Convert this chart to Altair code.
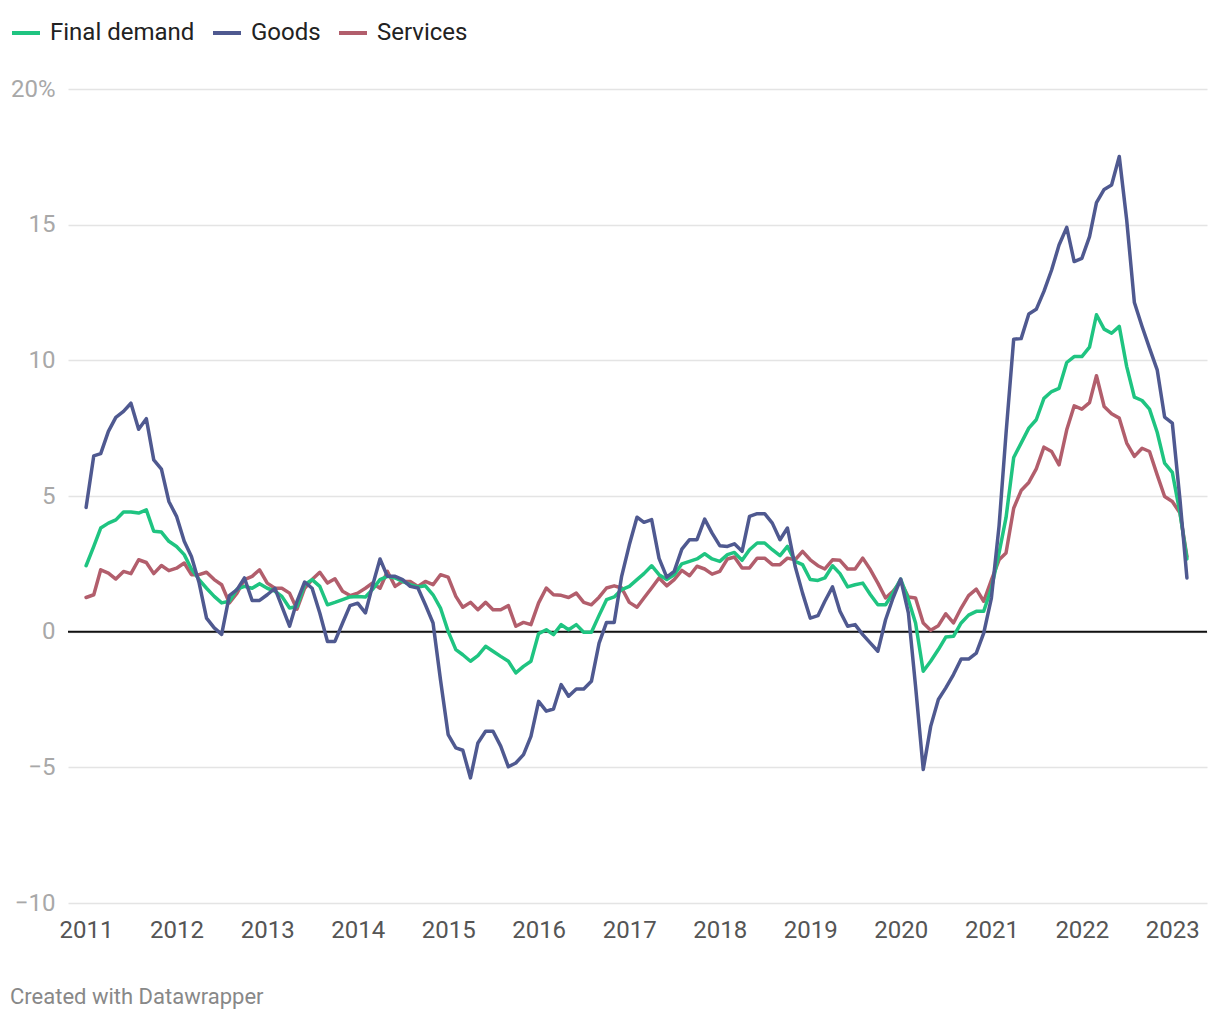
import altair as alt
import pandas as pd

# Monthly 12-month % change, Jan 2011 - Mar 2023
final_demand = [
    2.43, 3.14, 3.82, 4.0, 4.12, 4.41, 4.41, 4.37, 4.49, 3.7, 3.67, 3.33,
    3.14, 2.84, 2.31, 1.92, 1.6, 1.3, 1.06, 1.12, 1.57, 1.67, 1.6, 1.77,
    1.6, 1.49, 1.3, 0.87, 0.93, 1.73, 1.92, 1.67, 0.99, 1.08, 1.18, 1.28,
    1.3, 1.28, 1.55, 1.92, 2.04, 1.98, 1.85, 1.73, 1.65, 1.69, 1.36, 0.87,
    0.01, -0.66, -0.85, -1.09, -0.88, -0.54, -0.72, -0.91, -1.09, -1.52, -1.28, -1.09,
    -0.07, 0.07, -0.11, 0.26, 0.07, 0.26, -0.02, -0.02, 0.6, 1.18, 1.28, 1.55,
    1.67, 1.92, 2.14, 2.43, 2.1, 1.92, 2.1, 2.5, 2.59, 2.68, 2.87, 2.68,
    2.59, 2.84, 2.92, 2.63, 3.02, 3.27, 3.27, 3.02, 2.8, 3.14, 2.59, 2.47,
    1.92, 1.89, 1.98, 2.43, 2.14, 1.65, 1.73, 1.79, 1.36, 0.99, 0.99, 1.42,
    1.94, 1.18, 0.32, -1.46, -1.09, -0.66, -0.2, -0.17, 0.32, 0.61, 0.75, 0.75,
    1.6, 2.9, 4.2, 6.42, 6.95, 7.5, 7.81, 8.6, 8.85, 8.97, 9.92, 10.14,
    10.14, 10.49, 11.68, 11.15, 11.0, 11.25, 9.77, 8.64, 8.52, 8.2, 7.35, 6.21,
    5.87, 4.37, 2.68,
]
goods = [
    4.58, 6.48, 6.56, 7.38, 7.9, 8.12, 8.42, 7.46, 7.85, 6.33, 5.99, 4.8,
    4.25, 3.33, 2.77, 1.8, 0.5, 0.14, -0.1, 1.33, 1.55, 1.98, 1.15, 1.15,
    1.36, 1.6, 0.93, 0.2, 1.12, 1.83, 1.6, 0.69, -0.36, -0.36, 0.32, 0.96,
    1.05, 0.69, 1.67, 2.68, 2.04, 2.04, 1.92, 1.67, 1.61, 0.99, 0.32, -1.77,
    -3.79, -4.28, -4.37, -5.39, -4.1, -3.67, -3.67, -4.22, -4.98, -4.84, -4.53, -3.86,
    -2.57, -2.93, -2.85, -1.95, -2.38, -2.11, -2.11, -1.83, -0.42, 0.34, 0.34, 2.04,
    3.2, 4.22, 4.03, 4.13, 2.7, 2.01, 2.22, 3.04, 3.39, 3.39, 4.15, 3.63,
    3.17, 3.14, 3.24, 2.96, 4.25, 4.35, 4.35, 4.0, 3.39, 3.82, 2.41, 1.42,
    0.5, 0.59, 1.12, 1.65, 0.75, 0.2, 0.26, -0.11, -0.42, -0.72, 0.44, 1.24,
    1.94, 0.69, -2.01, -5.08, -3.49, -2.5, -2.07, -1.58, -1.01, -1.01, -0.79, -0.05,
    1.24, 3.9, 7.3, 10.78, 10.8, 11.71, 11.88, 12.54, 13.33, 14.25, 14.9, 13.64,
    13.76, 14.56, 15.81, 16.3, 16.46, 17.51, 15.17, 12.13, 11.25, 10.45, 9.65, 7.91,
    7.69, 4.86, 1.98,
]
services = [
    1.26, 1.36, 2.28, 2.16, 1.94, 2.22, 2.14, 2.65, 2.55, 2.14, 2.44, 2.25,
    2.34, 2.53, 2.1, 2.1, 2.19, 1.92, 1.73, 1.06, 1.42, 1.92, 2.04, 2.28,
    1.79, 1.6, 1.6, 1.42, 0.83, 1.6, 1.92, 2.19, 1.79, 1.95, 1.49, 1.33,
    1.42, 1.6, 1.79, 1.6, 2.22, 1.67, 1.85, 1.85, 1.67, 1.85, 1.73, 2.1,
    2.01, 1.3, 0.9, 1.08, 0.81, 1.08, 0.81, 0.81, 0.96, 0.2, 0.34, 0.26,
    1.06, 1.61, 1.36, 1.34, 1.26, 1.42, 1.08, 0.99, 1.27, 1.61, 1.69, 1.61,
    1.08, 0.9, 1.24, 1.61, 1.98, 1.69, 1.92, 2.26, 2.06, 2.41, 2.31, 2.12,
    2.22, 2.68, 2.75, 2.35, 2.35, 2.71, 2.71, 2.47, 2.47, 2.71, 2.65, 2.96,
    2.65, 2.43, 2.31, 2.65, 2.63, 2.31, 2.31, 2.71, 2.28, 1.79, 1.24, 1.49,
    1.85, 1.28, 1.24, 0.32, 0.05, 0.22, 0.66, 0.32, 0.87, 1.33, 1.57, 1.12,
    1.9, 2.65, 2.9, 4.55, 5.2, 5.5, 6.0, 6.8, 6.64, 6.15, 7.44, 8.32,
    8.2, 8.44, 9.43, 8.3, 8.03, 7.87, 6.95, 6.46, 6.76, 6.64, 5.78, 4.98,
    4.8, 4.37, 2.77,
]

series_names = ["Final demand", "Goods", "Services"]
series_colors = ["#1fc481", "#4f5990", "#b25e6c"]
y_ticks = [-10, -5, 0, 5, 10, 15, 20]
year_ticks = list(range(2011, 2024))

months = pd.date_range("2011-01-01", periods=len(goods), freq="MS")
rows = []
for name, vals in zip(series_names, [final_demand, goods, services]):
    for d, v in zip(months, vals):
        rows.append({"date": d, "value": v, "series": name})
df = pd.DataFrame(rows)

FONT = "Roboto"

x_enc = alt.X(
    "date:T",
    scale=alt.Scale(domain=[alt.DateTime(year=2010, month=10, date=20),
                            alt.DateTime(year=2023, month=5, date=21)]),
    axis=alt.Axis(
        title=None,
        values=[alt.DateTime(year=y, month=1, date=1) for y in year_ticks],
        format="%Y",
        grid=False, domain=False, ticks=False,
        labelFontSize=24, labelColor="#555555", labelPadding=15,
        labelFont=FONT, labelFlush=False,
    ),
)
y_enc = alt.Y(
    "value:Q",
    scale=alt.Scale(domain=[-10, 20], nice=False, zero=False),
    axis=alt.Axis(
        title=None,
        values=y_ticks,
        labelExpr="datum.value == 20 ? '20%' : replace(datum.label, '-', '\u2212')",
        grid=True, gridColor="#e4e4e4", gridWidth=1.5,
        domain=False, ticks=False,
        labelFontSize=24, labelColor="#a8a8a8", labelPadding=13,
        labelFont=FONT, labelBaseline="middle",
    ),
)
color_enc = alt.Color(
    "series:N",
    scale=alt.Scale(domain=series_names, range=series_colors),
    legend=alt.Legend(
        title=None, orient="none", direction="horizontal",
        legendX=-58, legendY=-72,
        symbolType="stroke", symbolSize=784, symbolStrokeWidth=4,
        labelFontSize=24, labelColor="#222222", labelFont=FONT,
        labelOffset=8, columnPadding=10, padding=0,
    ),
)

def series_layer(name):
    return (
        alt.Chart(df)
        .transform_filter(alt.datum.series == name)
        .mark_line(strokeWidth=3.5, strokeJoin="round", strokeCap="round")
        .encode(x=x_enc, y=y_enc, color=color_enc)
    )

zero = (
    alt.Chart(pd.DataFrame({"value": [0]}))
    .mark_rule(color="#111111", strokeWidth=2)
    .encode(y=y_enc)
)

footer = (
    alt.Chart(pd.DataFrame({"t": ["Created with Datawrapper"]}))
    .mark_text(align="left", baseline="middle", fontSize=22, color="#888888", font=FONT)
    .encode(x=alt.value(-58), y=alt.value(908), text="t:N")
)

chart = (
    alt.layer(
        zero,
        series_layer("Services"),
        series_layer("Final demand"),
        series_layer("Goods"),
        footer,
    )
    .properties(
        width=1139, height=814,
        autosize=alt.AutoSizeParams(type="none"),
        padding={"left": 68, "top": 89, "right": 13, "bottom": 117},
        background="white",
        view=alt.ViewBackground(stroke="transparent", strokeWidth=0),
    )
    .configure_view(stroke="transparent", strokeWidth=0, strokeOpacity=0)
    .configure(font=FONT)
)

chart.save("out.html", embed_options={"renderer": "svg", "actions": False})
